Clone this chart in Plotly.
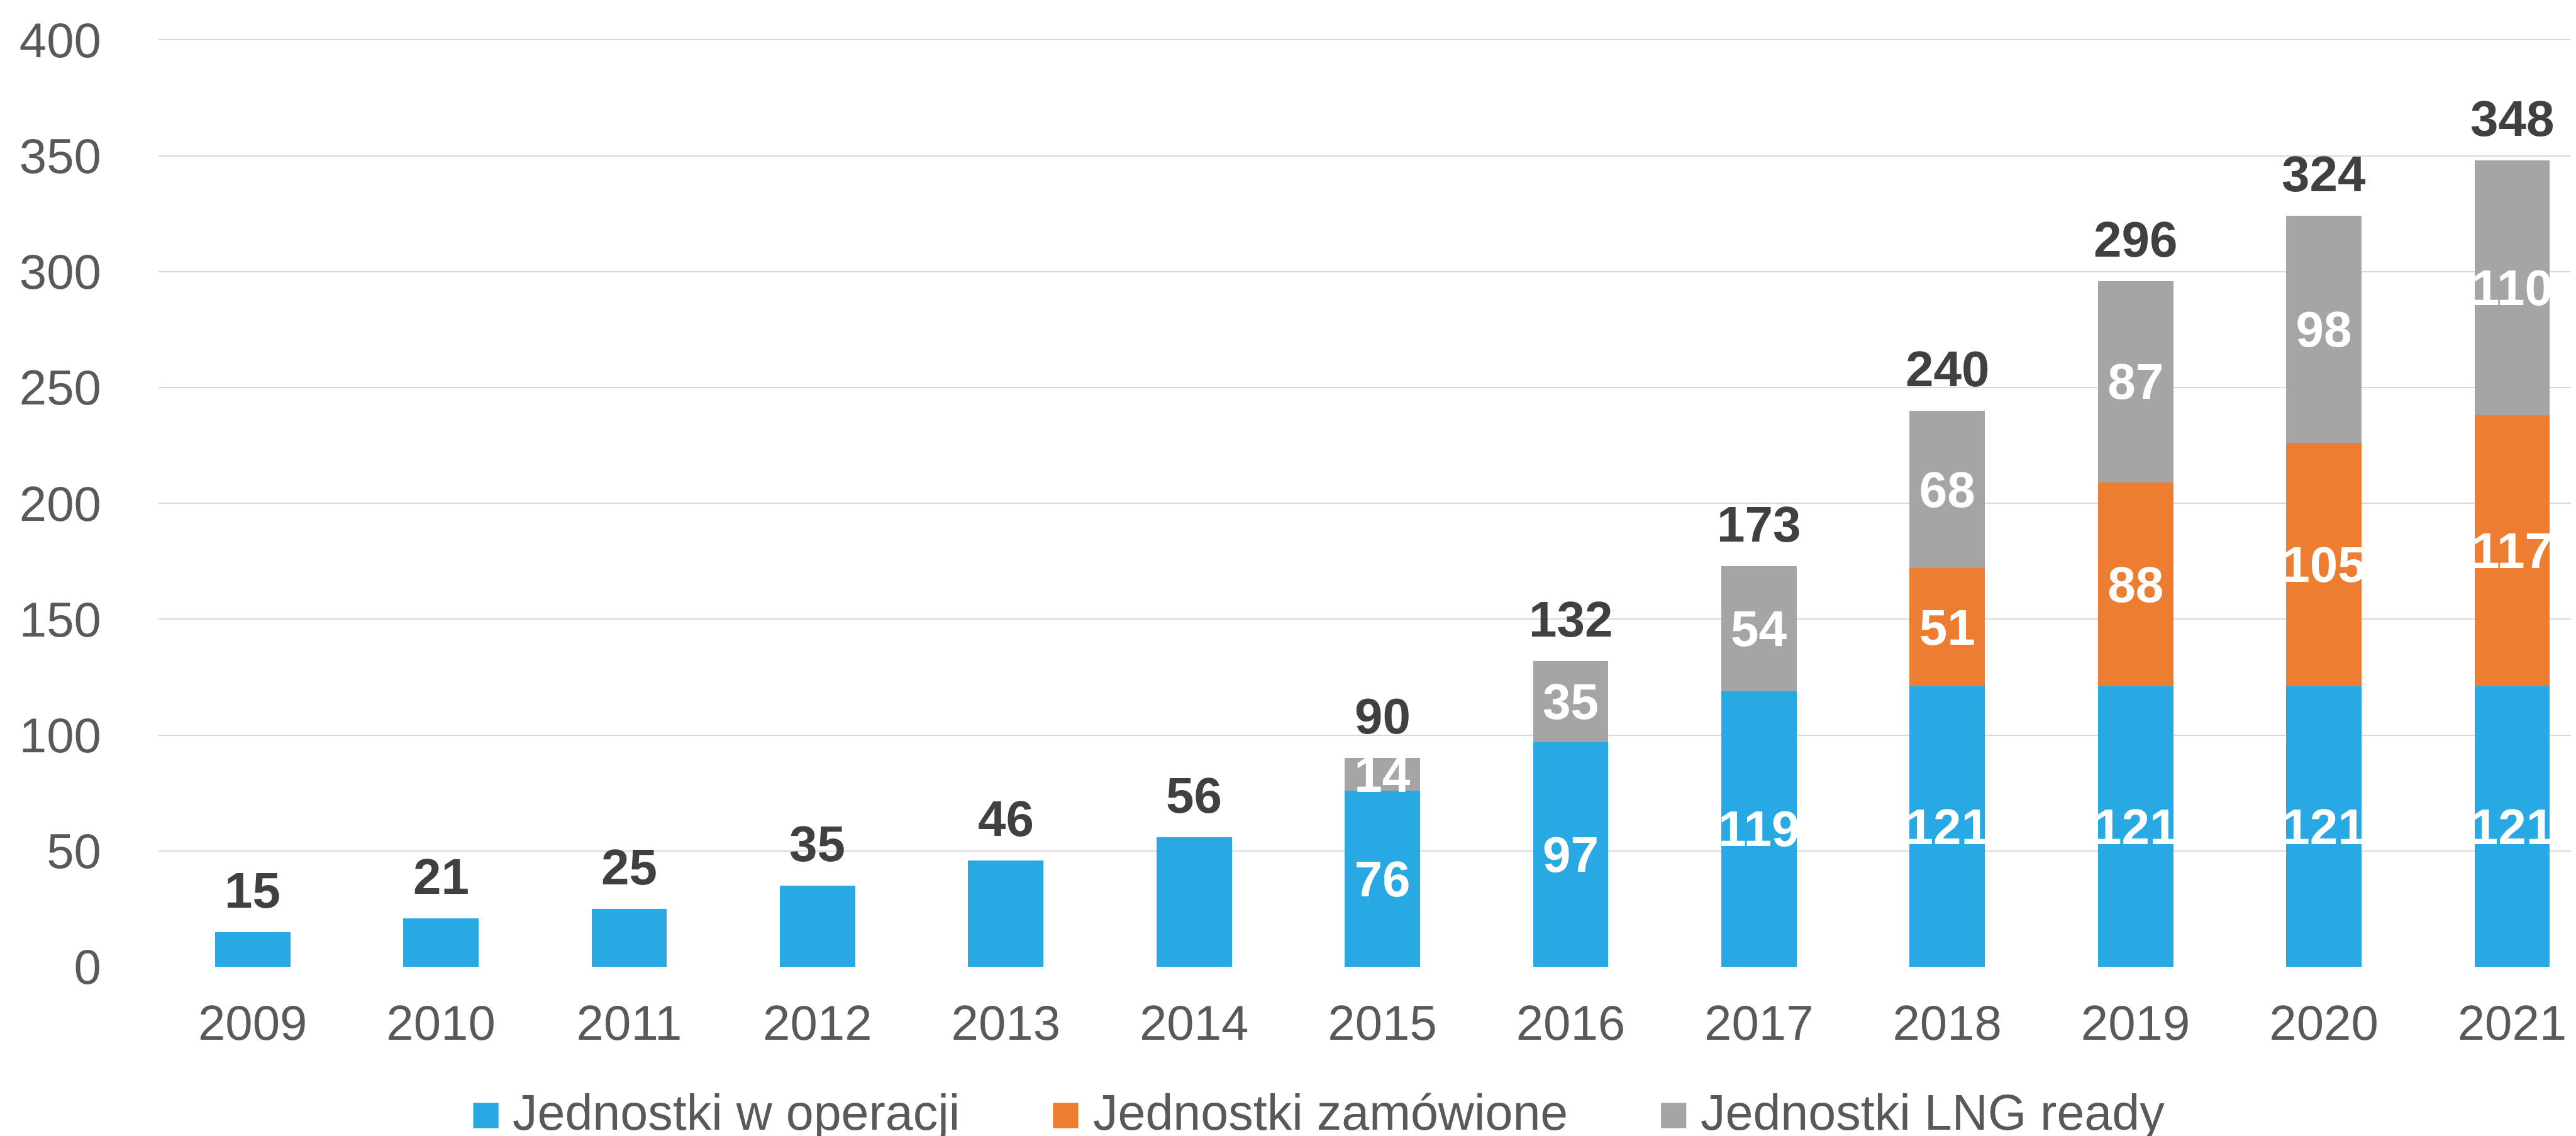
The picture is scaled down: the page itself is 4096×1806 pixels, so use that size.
import plotly.graph_objects as go

# ---- data ----
years = ["2009", "2010", "2011", "2012", "2013", "2014", "2015",
         "2016", "2017", "2018", "2019", "2020", "2021"]
in_operation = [15, 21, 25, 35, 46, 56, 76, 97, 119, 121, 121, 121, 121]
ordered = [None, None, None, None, None, None, None, None, None, 51, 88, 105, 117]
lng_ready = [None, None, None, None, None, None, 14, 35, 54, 68, 87, 98, 110]
totals = [15, 21, 25, 35, 46, 56, 90, 132, 173, 240, 296, 324, 348]
first_labelled_year = "2015"

series_names = ["Jednostki w operacji", "Jednostki zamówione", "Jednostki LNG ready"]
colors = ["#29A9E3", "#ED7D31", "#A5A5A5"]
y_ticks = [0, 50, 100, 150, 200, 250, 300, 350, 400]

# ---- geometry (pixels in the 4096x1806 window) ----
W, H = 4096, 1806
L, R, T, B = 243.8, 0, 53.9, 276.6
plot_w = W - L - R
plot_h = H - T - B

FONT = "Liberation Sans, Arial, sans-serif"
tick_color = "#595959"
label_color = "#404040"


def seg_text(vals):
    start = years.index(first_labelled_year)
    out = []
    for i, v in enumerate(vals):
        out.append(str(v) if (v is not None and i >= start) else "")
    return out


fig = go.Figure()
for name, vals, col in zip(series_names, [in_operation, ordered, lng_ready], colors):
    fig.add_trace(go.Bar(
        x=years, y=vals, name=name,
        marker=dict(color=col, line=dict(width=0)),
        text=seg_text(vals),
        textposition="inside",
        insidetextanchor="middle",
        textangle=0,
        constraintext="none",
        insidetextfont=dict(family=FONT, size=80, color="white", weight="bold"),
        showlegend=False,
        cliponaxis=False,
    ))

# total labels above stacks (x given as category index)
for i, tot in enumerate(totals):
    fig.add_annotation(
        x=i, y=tot, xref="x", yref="y", text=str(tot),
        showarrow=False, yanchor="bottom", xanchor="center", yshift=20,
        font=dict(family=FONT, size=80, color=label_color, weight="bold"),
    )


# manual legend (large square keys, like the reference)
def px_x(x):
    return (x - L) / plot_w


def px_y(y):
    return (H - B - y) / plot_h


legend_square_x = [744.3, 1666.2, 2633.0]
legend_text_x = [805.0, 1727.9, 2693.7]
sq_top, sq_bot = 1745.6, 1785.9
text_mid = 1761.0
for name, col, sx, tx in zip(series_names, colors, legend_square_x, legend_text_x):
    fig.add_shape(type="rect", xref="paper", yref="paper",
                  x0=px_x(sx), x1=px_x(sx + 40.2), y0=px_y(sq_bot), y1=px_y(sq_top),
                  fillcolor=col, line=dict(width=0), layer="above")
    fig.add_annotation(xref="paper", yref="paper", x=px_x(tx), y=px_y(text_mid),
                       text=name, showarrow=False, xanchor="left", yanchor="middle",
                       font=dict(family=FONT, size=79, color=tick_color))

fig.update_layout(
    width=W, height=H,
    margin=dict(l=L, r=R, t=T, b=B, autoexpand=False),
    barmode="stack", bargap=0.6,
    plot_bgcolor="white", paper_bgcolor="white",
    font=dict(family=FONT, color=tick_color),
    showlegend=False,
)
fig.update_xaxes(
    type="category", range=[-0.5, 12.366],
    showgrid=False, showline=False, zeroline=False, ticks="",
    tickfont=dict(family=FONT, size=78, color=tick_color),
    ticklabelstandoff=37,
)
fig.update_yaxes(
    range=[0, 400.4], tickvals=y_ticks,
    showgrid=True, gridcolor="#D9D9D9", gridwidth=2,
    zeroline=False, showline=False, ticks="",
    tickfont=dict(family=FONT, size=78, color=tick_color),
    ticklabelstandoff=90,
)

fig.write_html("out.html")
